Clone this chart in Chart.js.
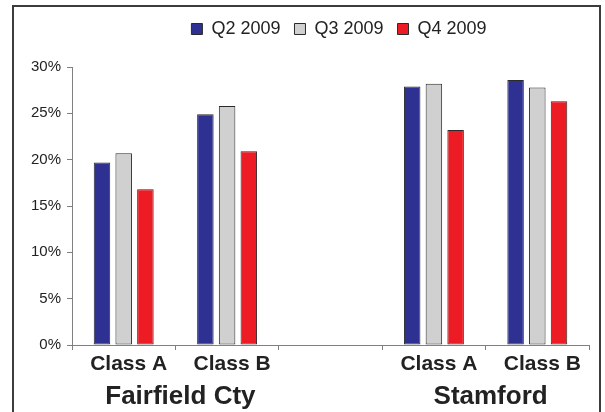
<!DOCTYPE html>
<html>
<head>
<meta charset="utf-8">
<script src="https://cdn.jsdelivr.net/npm/chart.js@4"></script>
<style>
  html, body { margin: 0; padding: 0; background: #fff; }
  #wrap { position: relative; width: 605px; height: 412px; overflow: hidden; }
  #frame { position: absolute; left: 12px; top: 5px; width: 585px; height: 420px; border: 2px solid #3c3c3c; border-bottom: none; }
  canvas { position: absolute; left: 0; top: 0; }
</style>
</head>
<body>
<div id="wrap">
  <div id="frame"></div>
  <canvas id="chart" width="605" height="412"></canvas>
</div>
<script>
// Chart data
const categories = ['Class A', 'Class B', '', 'Class A', 'Class B'];
const groups = ['Fairfield Cty', 'Fairfield Cty', '', 'Stamford', 'Stamford'];
const seriesNames = ['Q2 2009', 'Q3 2009', 'Q4 2009'];
const q2Values = [19.7, 24.9, null, 27.9, 28.6];
const q3Values = [20.7, 25.8, null, 28.2, 27.8];
const q4Values = [16.8, 20.9, null, 23.2, 26.3];
const yTicks = [0, 5, 10, 15, 20, 25, 30];

const FONT = "'Liberation Sans', Arial, sans-serif";
const TEXT = '#222';
const AXIS = '#808080';

// centre of each group label, from the category indices that belong to it
const groupNames = [...new Set(groups.filter(g => g))];
const groupCenters = groupNames.map(name => {
  const idx = groups.map((g, i) => g === name ? i : null).filter(i => i !== null);
  return idx.reduce((a, b) => a + b, 0) / idx.length;
});

// move the legend to where the original had it
const legendShift = {
  id: 'legendShift',
  afterLayout(chart) {
    chart.legend.left += 37;
    chart.legend.right += 37;
    chart.legend.top -= 19;
    chart.legend.bottom -= 19;
  }
};

function bar(label, data, color) {
  return {
    label: label,
    data: data,
    backgroundColor: color,
    borderColor: '#2a2a2a',
    borderWidth: 1,
    borderSkipped: false,
    categoryPercentage: 0.63,
    barPercentage: 0.76
  };
}

new Chart(document.getElementById('chart'), {
  type: 'bar',
  data: {
    labels: categories,
    datasets: [
      bar(seriesNames[0], q2Values, '#2e3192'),
      bar(seriesNames[1], q3Values, '#d0d0d0'),
      bar(seriesNames[2], q4Values, '#ed1c24')
    ]
  },
  plugins: [legendShift],
  options: {
    responsive: false,
    animation: false,
    layout: { padding: { left: 15, right: 16, top: 25, bottom: 0 } },
    plugins: {
      legend: {
        display: true,
        position: 'top',
        labels: {
          font: { family: FONT, size: 18 },
          color: TEXT,
          boxWidth: 11,
          boxHeight: 11,
          padding: 14
        }
      },
      tooltip: { enabled: false }
    },
    scales: {
      x: {
        type: 'category',
        position: 'bottom',
        weight: 0,
        grid: { display: true, drawOnChartArea: false, drawTicks: true, tickLength: 5, color: AXIS, offset: true },
        border: { display: true, color: AXIS, width: 1 },
        ticks: { font: { family: FONT, size: 21, weight: 'bold' }, color: TEXT, padding: 2, labelOffset: 5, maxRotation: 0, autoSkip: false },
        afterFit: scale => { scale.height = 28; }
      },
      x2: {
        type: 'linear',
        position: 'bottom',
        weight: 1,
        min: -0.5,
        max: categories.length - 0.5,
        offset: false,
        grid: { display: false },
        border: { display: false },
        afterBuildTicks: scale => { scale.ticks = groupCenters.map(v => ({ value: v })); },
        ticks: {
          font: { family: FONT, size: 26, weight: 'bold' },
          color: TEXT,
          padding: 0,
          labelOffset: 5,
          maxRotation: 0,
          autoSkip: false,
          callback: value => groupNames[groupCenters.indexOf(value)]
        },
        afterFit: scale => { scale.height = 39; }
      },
      y: {
        min: yTicks[0],
        max: yTicks[yTicks.length - 1],
        grid: { display: true, drawOnChartArea: false, drawTicks: true, tickLength: 5, color: AXIS },
        border: { display: true, color: AXIS, width: 1 },
        afterBuildTicks: scale => { scale.ticks = yTicks.map(v => ({ value: v })); },
        ticks: {
          font: { family: FONT, size: 15 },
          color: TEXT,
          padding: 6,
          callback: value => value + '%'
        },
        afterFit: scale => { scale.width = 57; }
      }
    }
  }
});
</script>
</body>
</html>
